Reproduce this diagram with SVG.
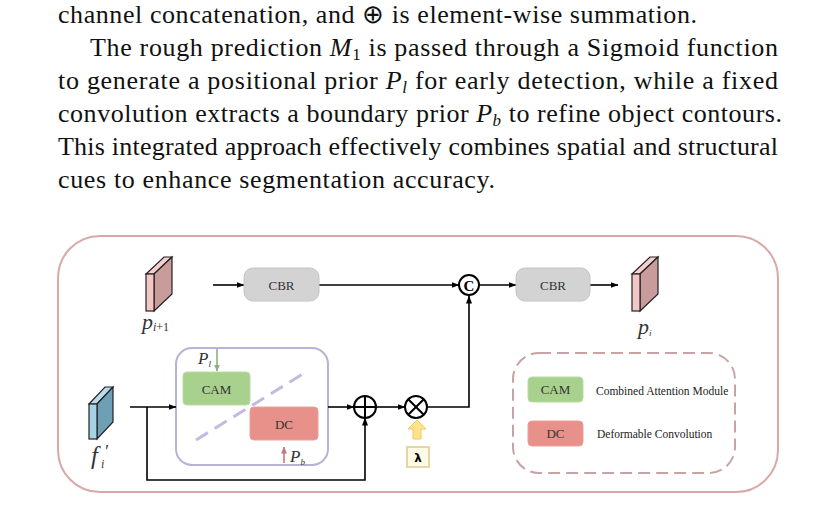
<svg xmlns="http://www.w3.org/2000/svg" width="835" height="519" viewBox="0 0 835 519">
<defs>
<marker id="ah" markerWidth="8" markerHeight="6" refX="7.5" refY="3" orient="auto" markerUnits="userSpaceOnUse"><path d="M0,0 L8,3 L0,6 z" fill="#000"/></marker>
<marker id="ahg" markerWidth="7" markerHeight="6" refX="6.5" refY="3" orient="auto" markerUnits="userSpaceOnUse"><path d="M0,0 L7,3 L0,6 z" fill="#8fb07f"/></marker>
<marker id="ahr" markerWidth="7" markerHeight="6" refX="6.5" refY="3" orient="auto" markerUnits="userSpaceOnUse"><path d="M0,0 L7,3 L0,6 z" fill="#c87878"/></marker>
</defs>
<style>
.body{font-family:"Liberation Serif","Times New Roman",serif;font-size:26px;fill:#111}
.it{font-style:italic}
.lbl{font-family:"Liberation Serif","Times New Roman",serif;fill:#333;text-anchor:middle;dominant-baseline:central}
.cbr{fill:#d3d3d3;stroke:#c4c4c4;stroke-width:1}
.cam{fill:#a9d18e;stroke:#b9dca2;stroke-width:1}
.dc{fill:#e8908a;stroke:#eaa09a;stroke-width:1}
.ln{fill:none;stroke:#000;stroke-width:1.6}
.op{fill:#fff;stroke:#000;stroke-width:2}
.math{font-family:"Liberation Serif","Times New Roman",serif;font-style:italic;fill:#333}
.leg{font-family:"Liberation Serif","Times New Roman",serif;font-size:11.5px;fill:#222}
</style>
<rect width="835" height="519" fill="#fff"/>

<g id="paragraph">
<text class="body" x="58" y="23" textLength="639" lengthAdjust="spacing">channel concatenation, and ⊕ is element-wise summation.</text>
<text class="body" x="90" y="56" textLength="688" lengthAdjust="spacing">The rough prediction <tspan class="it">M</tspan><tspan font-size="17" dy="4">1</tspan><tspan dy="-4"> is passed through a Sigmoid function</tspan></text>
<text class="body" x="58" y="89" textLength="720" lengthAdjust="spacing">to generate a positional prior <tspan class="it">P</tspan><tspan class="it" font-size="17" dy="4">l</tspan><tspan dy="-4"> for early detection, while a fixed</tspan></text>
<text class="body" x="58" y="122" textLength="724" lengthAdjust="spacing">convolution extracts a boundary prior <tspan class="it">P</tspan><tspan class="it" font-size="17" dy="4">b</tspan><tspan dy="-4"> to refine object contours.</tspan></text>
<text class="body" x="58" y="155" textLength="720" lengthAdjust="spacing">This integrated approach effectively combines spatial and structural</text>
<text class="body" x="58" y="188" textLength="437" lengthAdjust="spacing">cues to enhance segmentation accuracy.</text>
</g>

<g id="frame">
<rect x="58" y="236" width="720" height="256" rx="42" ry="42" fill="#fff" stroke="#d7aaa8" stroke-width="2"/>
</g>

<g id="fusion_block">
<rect x="176" y="348" width="152" height="117" rx="16" fill="#fff" stroke="#b7b2d6" stroke-width="2"/>
<line x1="196" y1="440" x2="306" y2="372" stroke="#c3bade" stroke-width="3" stroke-dasharray="14,8"/>
<text class="math" x="198" y="364" font-size="17">P<tspan font-size="9" dy="3">l</tspan></text>
<text class="math" x="290" y="462" font-size="17">P<tspan font-size="9" dy="3">b</tspan></text>
</g>

<g id="connectors">
<path class="ln" d="M213,285 H244" marker-end="url(#ah)"/>
<path class="ln" d="M319,285 H459" marker-end="url(#ah)"/>
<path class="ln" d="M479,285 H516" marker-end="url(#ah)"/>
<path class="ln" d="M590,285 H618" marker-end="url(#ah)"/>
<path class="ln" d="M130,407 H176" marker-end="url(#ah)"/>
<path class="ln" d="M147,407 V480 H365 V418" marker-end="url(#ah)"/>
<path class="ln" d="M328,407 H354" marker-end="url(#ah)"/>
<path class="ln" d="M376,407 H405" marker-end="url(#ah)"/>
<path class="ln" d="M427,407 H469 V296" marker-end="url(#ah)"/>
<path d="M217,349 V371" stroke="#8fb07f" stroke-width="1.6" fill="none" marker-end="url(#ahg)"/>
<path d="M284,463 V447" stroke="#c87878" stroke-width="1.6" fill="none" marker-end="url(#ahr)"/>
</g>

<g id="p_i_plus_1">
<polygon points="146,274 164,257 172,257 154,274" fill="#f6cfcf" stroke="#222" stroke-width="1.2"/>
<polygon points="154,274 172,257 172,294 154,311" fill="#c99c9c" stroke="#222" stroke-width="1.2"/>
<rect x="146" y="274" width="8" height="37" fill="#f5c6c6" stroke="#222" stroke-width="1.2"/>
<text class="math" x="142" y="329" font-size="22">p<tspan font-size="12" dy="2">i</tspan><tspan font-size="12" font-style="normal">+1</tspan></text>
</g>

<g id="cbr1">
<rect class="cbr" x="244" y="268" width="75" height="33" rx="9"/>
<text class="lbl" x="281.5" y="285" font-size="13">CBR</text>
</g>

<g id="concat">
<circle class="op" cx="469" cy="285" r="10"/>
<text x="469" y="285.5" font-family="Liberation Serif, serif" font-weight="bold" font-size="15" text-anchor="middle" dominant-baseline="central" fill="#000">C</text>
</g>

<g id="cbr2">
<rect class="cbr" x="516" y="268" width="74" height="33" rx="9"/>
<text class="lbl" x="553" y="285" font-size="13">CBR</text>
</g>

<g id="p_i">
<polygon points="632,274 650,257 658,257 640,274" fill="#f6cfcf" stroke="#222" stroke-width="1.2"/>
<polygon points="640,274 658,257 658,294 640,311" fill="#c99c9c" stroke="#222" stroke-width="1.2"/>
<rect x="632" y="274" width="8" height="37" fill="#f5c6c6" stroke="#222" stroke-width="1.2"/>
<text class="math" x="638" y="334" font-size="22">p<tspan font-size="9" dy="2">i</tspan></text>
</g>

<g id="f_i">
<polygon points="89,404 105,387 113,387 97,404" fill="#b9dcea" stroke="#222" stroke-width="1.2"/>
<polygon points="97,404 113,387 113,422 97,439" fill="#6f9fb5" stroke="#222" stroke-width="1.2"/>
<rect x="89" y="404" width="8" height="35" fill="#a6d2e4" stroke="#222" stroke-width="1.2"/>
<text class="math" x="91" y="464" font-size="25">f</text>
<text class="math" x="101" y="468" font-size="12">i</text>
<text class="math" x="104" y="458" font-size="18" font-style="normal">′</text>
</g>

<g id="cam">
<rect class="cam" x="183" y="372" width="67" height="33" rx="4"/>
<text class="lbl" x="216.5" y="389" font-size="13" fill="#223">CAM</text>
</g>

<g id="dc">
<rect class="dc" x="250" y="407" width="68" height="33" rx="4"/>
<text class="lbl" x="284" y="424" font-size="13" fill="#222">DC</text>
</g>

<g id="sum">
<circle class="op" cx="365" cy="407" r="11"/>
<path d="M354,407 H376 M365,396 V418" stroke="#000" stroke-width="2"/>
</g>

<g id="mul">
<circle class="op" cx="416" cy="407" r="11"/>
<path d="M408.2,399.2 L423.8,414.8 M423.8,399.2 L408.2,414.8" stroke="#000" stroke-width="2"/>
</g>

<g id="lambda">
<path d="M417,420 L426,429 L421,429 L421,439 L413,439 L413,429 L408,429 Z" fill="#ffe38a" stroke="#f0c860" stroke-width="1"/>
<rect x="407" y="447" width="22" height="20" fill="#fffbe6" stroke="#d9cc8c" stroke-width="1.5"/>
<text x="418" y="457.5" font-family="DejaVu Sans, sans-serif" font-weight="bold" font-size="12" text-anchor="middle" dominant-baseline="central" fill="#000">λ</text>
</g>

<g id="legend">
<rect x="513" y="353" width="222" height="120" rx="26" fill="none" stroke="#c9a3a3" stroke-width="2" stroke-dasharray="12,6"/>
<rect class="cam" x="528" y="377" width="55" height="25" rx="4"/>
<text class="lbl" x="555.5" y="389.5" font-size="13" fill="#223">CAM</text>
<text class="leg" x="596" y="395">Combined Attention Module</text>
<rect class="dc" x="528" y="421" width="55" height="25" rx="4"/>
<text class="lbl" x="555.5" y="433.5" font-size="13" fill="#222">DC</text>
<text class="leg" x="597" y="438">Deformable Convolution</text>
</g>
</svg>
